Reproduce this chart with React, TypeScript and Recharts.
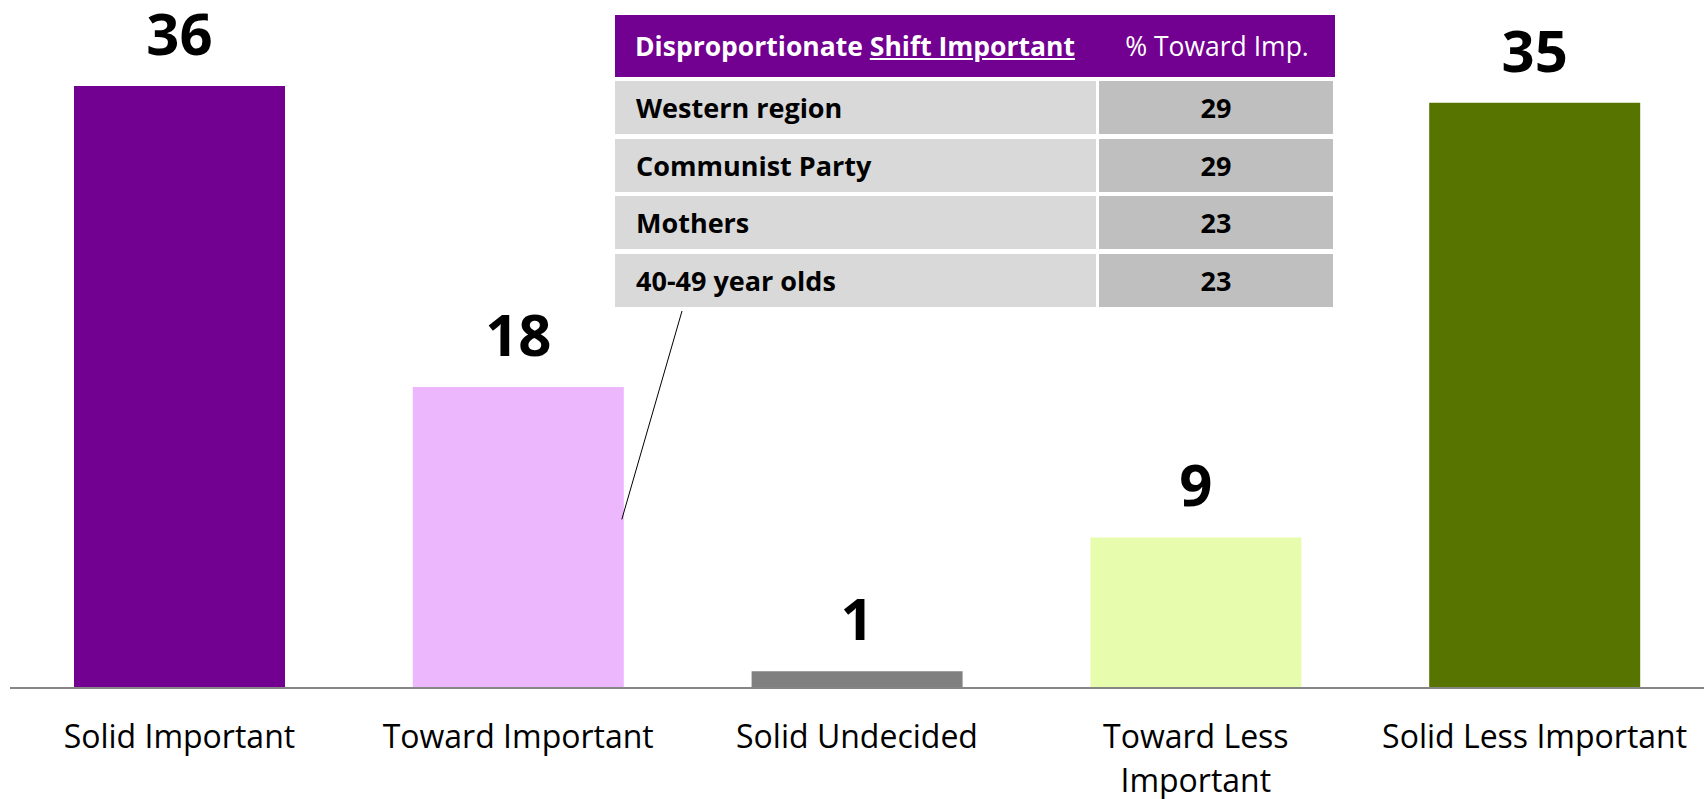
import { BarChart, Bar, Cell, LabelList, XAxis, YAxis } from "recharts";

const categories = [
  "Solid Important",
  "Toward Important",
  "Solid Undecided",
  "Toward Less Important",
  "Solid Less Important",
];
const values = [36, 18, 1, 9, 35];
const tickLines = [
  ["Solid Important"],
  ["Toward Important"],
  ["Solid Undecided"],
  ["Toward Less", "Important"],
  ["Solid Less Important"],
];

const tableTitle = "Disproportionate";
const tableTitleUnderlined = "Shift Important";
const tableValueHeader = "% Toward Imp.";
const tableGroups = ["Western region", "Communist Party", "Mothers", "40-49 year olds"];
const tableValues = [29, 29, 23, 23];

const COLORS = ["#720090", "#EDB7FD", "#808080", "#E7FDAD", "#577400"];
const PURPLE = "#720090";
const FONT = '"Open Sans", sans-serif';

// bottom-left corner of the callout table, where the leader line starts
const CALLOUT_FROM = { x: 682, y: 311 };

const chartData = categories.map((name, i) => ({ name, value: values[i] }));

function CategoryTick(props: any) {
  const { x, y, payload } = props;
  const idx = payload?.index ?? categories.indexOf(payload?.value);
  const lines = tickLines[idx] ?? [String(payload?.value)];
  return (
    <text x={x} y={y} textAnchor="middle" fill="#000" fontSize={32} fontFamily={FONT}>
      {lines.map((l, i) => (
        <tspan key={i} x={x} y={y + 60 + i * 44}>
          {l}
        </tspan>
      ))}
    </text>
  );
}

function ValueLabel(props: any) {
  const { x, y, width, height, value, index } = props;
  const cx = Number(x) + Number(width) / 2;
  return (
    <g>
      <text
        x={cx}
        y={Number(y) - 31}
        textAnchor="middle"
        fill="#000"
        fontSize={58}
        fontWeight={700}
        fontFamily={FONT}
      >
        {value}
      </text>
      {index === 1 && (
        <line
          x1={CALLOUT_FROM.x}
          y1={CALLOUT_FROM.y}
          x2={Number(x) + Number(width) - 2}
          y2={Number(y) + Number(height) * 0.44}
          stroke="#000"
          strokeWidth={1}
        />
      )}
    </g>
  );
}

function CalloutTable() {
  const cell = {
    height: 53,
    display: "flex",
    alignItems: "center",
    fontWeight: 700,
    fontSize: 27,
    color: "#000",
  } as const;
  return (
    <div style={{ position: "absolute", left: 615, top: 15, width: 720, fontFamily: FONT }}>
      <div
        style={{
          height: 62,
          background: PURPLE,
          display: "flex",
          alignItems: "center",
          color: "#fff",
          fontSize: 26.5,
        }}
      >
        <div style={{ width: 484, paddingLeft: 20, boxSizing: "border-box", fontWeight: 700 }}>
          {tableTitle} <span style={{ textDecoration: "underline" }}>{tableTitleUnderlined}</span>
        </div>
        <div style={{ width: 236, textAlign: "center" }}>{tableValueHeader}</div>
      </div>
      {tableGroups.map((g, i) => (
        <div key={g} style={{ display: "flex", marginTop: i === 0 ? 4 : 4.5 }}>
          <div style={{ ...cell, width: 481, background: "#D9D9D9", paddingLeft: 21, boxSizing: "border-box" }}>
            {g}
          </div>
          <div style={{ ...cell, width: 234, marginLeft: 3, background: "#BFBFBF", justifyContent: "center" }}>
            {tableValues[i]}
          </div>
        </div>
      ))}
    </div>
  );
}

export default function App() {
  return (
    <div
      style={{
        position: "absolute",
        left: 0,
        top: 0,
        width: 1704,
        height: 799,
        background: "#fff",
        fontFamily: FONT,
        overflow: "hidden",
      }}
    >
      <BarChart
        width={1704}
        height={799}
        data={chartData}
        margin={{ top: 19, right: 0, left: 10, bottom: 0 }}
        barCategoryGap={64}
      >
        <XAxis
          dataKey="name"
          height={111}
          interval={0}
          tickLine={false}
          tickSize={0}
          tickMargin={0}
          axisLine={{ stroke: "#868686", strokeWidth: 2 }}
          tick={<CategoryTick />}
        />
        <YAxis hide domain={[0, 40]} />
        <Bar dataKey="value" isAnimationActive={false}>
          {chartData.map((d, i) => (
            <Cell key={d.name} fill={COLORS[i]} />
          ))}
          <LabelList dataKey="value" content={<ValueLabel />} />
        </Bar>
      </BarChart>
      <CalloutTable />
    </div>
  );
}
